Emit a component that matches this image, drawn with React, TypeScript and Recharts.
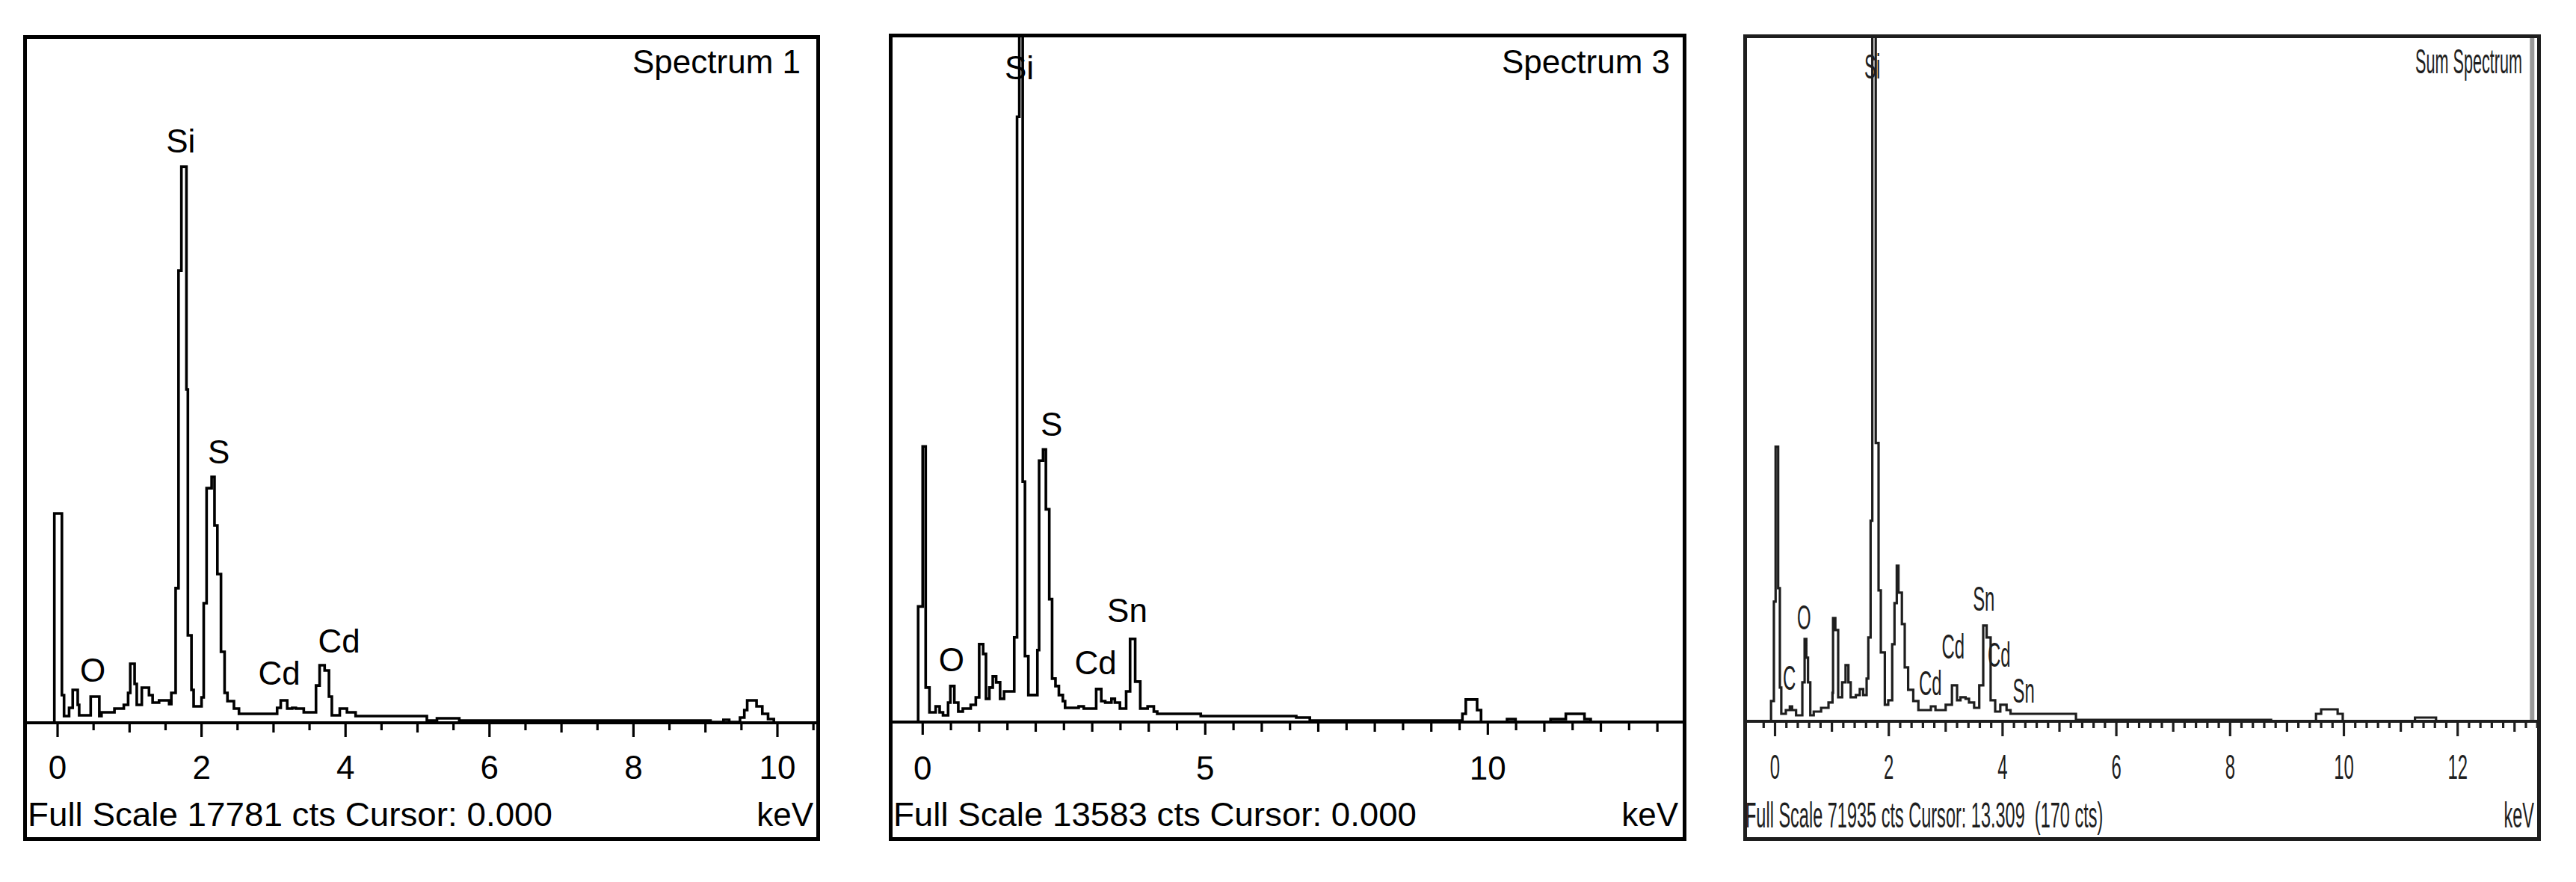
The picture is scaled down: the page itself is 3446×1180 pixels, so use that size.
import { Line, LineChart, ReferenceDot, ReferenceLine, XAxis, YAxis } from "recharts";

const FONT = '"Liberation Sans", Arial, sans-serif';

// Spectrum 1 (bin start keV, counts)
const spec1Kev = [
  -0.43, -0.045, 0.06, 0.09, 0.16, 0.21, 0.28, 0.3, 0.46, 0.58, 0.61, 0.79, 0.92, 0.98, 1.01, 1.07, 1.1, 1.17,
  1.27, 1.32, 1.41, 1.55, 1.58, 1.64, 1.68, 1.72, 1.79, 1.81, 1.86, 1.89, 2.0, 2.03, 2.07, 2.14, 2.18, 2.22,
  2.27, 2.32, 2.36, 2.45, 2.52, 3.05, 3.1, 3.19, 3.26, 3.31, 3.42, 3.59, 3.64, 3.71, 3.77, 3.81, 3.92, 4.02,
  4.14, 5.13, 5.27, 5.58, 9.07, 9.25, 9.33, 9.48, 9.54, 9.58, 9.71, 9.79, 9.87, 9.95, 10.55,
];
const spec1Cts = [
  0, 5440, 720, 175, 390, 855, 466, 195, 680, 175, 272, 370, 466, 777, 1535, 1010, 466, 913, 720, 525, 583,
  486, 777, 3500, 11755, 14455, 8666, 2273, 855, 427, 660, 3109, 6100, 6392, 5130, 3867, 1846, 777, 563, 370,
  233, 390, 583, 370, 390, 370, 272, 970, 1496, 1360, 680, 195, 370, 272, 175, 58, 117, 58, 20, 78, 20, 136,
  330, 583, 427, 233, 97, 0, 0,
];
const spec1Elements = ["Si", "S", "O", "Cd", "Cd"];
const spec1ElementKev = [1.71, 2.24, 0.49, 3.08, 3.91];
const spec1ElementCts = [15136, 7053, 1370, 1302, 2137];
const spec1TickLabels = [0, 2, 4, 6, 8, 10];

// Spectrum 3
const spec3Kev = [
  -0.53, -0.08, 0.0, 0.053, 0.12, 0.23, 0.3, 0.36, 0.45, 0.49, 0.56, 0.63, 0.71, 0.85, 0.94, 1.0, 1.07, 1.12,
  1.18, 1.24, 1.3, 1.37, 1.44, 1.62, 1.67, 1.71, 1.77, 1.81, 1.87, 2.03, 2.06, 2.13, 2.18, 2.24, 2.29, 2.35,
  2.41, 2.48, 2.52, 2.76, 2.85, 3.07, 3.16, 3.23, 3.34, 3.4, 3.49, 3.6, 3.67, 3.76, 3.85, 3.98, 4.09, 4.15,
  4.92, 6.61, 6.85, 9.55, 9.61, 9.81, 9.88, 10.34, 10.49, 11.11, 11.38, 11.71, 11.82, 13.45,
];
const spec3Cts = [
  0, 2293, 5468, 684, 193, 312, 193, 134, 386, 713, 386, 208, 267, 342, 490, 1545, 1352, 461, 684, 906, 788,
  461, 609, 1679, 12007, 15500, 4770, 1308, 535, 1427, 5186, 5409, 4220, 2437, 862, 713, 535, 416, 282, 312,
  267, 654, 416, 386, 461, 386, 267, 609, 1650, 802, 267, 312, 208, 163, 119, 89, 30, 163, 446, 238, 0, 59,
  0, 59, 163, 59, 0, 0,
];
const spec3Elements = ["Si", "S", "Sn", "Cd", "O"];
const spec3ElementKev = [1.71, 2.28, 3.62, 3.06, 0.51];
const spec3ElementCts = [12980, 5914, 2222, 1181, 1248];
const spec3TickLabels = [0, 5, 10];

// Sum Spectrum
const sumKev = [
  -0.49, -0.07, -0.02, 0.01, 0.055, 0.085, 0.11, 0.19, 0.26, 0.3, 0.37, 0.48, 0.52, 0.55, 0.58, 0.62, 0.68,
  0.81, 0.94, 1.01, 1.02, 1.06, 1.11, 1.18, 1.24, 1.29, 1.33, 1.42, 1.49, 1.55, 1.61, 1.64, 1.68, 1.71, 1.77,
  1.82, 1.86, 1.93, 1.99, 2.06, 2.1, 2.14, 2.17, 2.23, 2.28, 2.34, 2.43, 2.52, 2.74, 2.82, 3.0, 3.11, 3.2,
  3.26, 3.35, 3.41, 3.5, 3.59, 3.66, 3.72, 3.79, 3.87, 3.96, 4.07, 4.14, 5.29, 8.72, 9.51, 9.6, 9.89, 9.98,
  11.25, 11.62, 13.4,
];
const sumCts = [
  0, 2128, 12608, 28920, 14026, 3546, 788, 1182, 1576, 1182, 630, 4098, 8668, 6698, 4098, 630, 1024, 1418,
  1970, 2994, 10874, 9614, 2522, 4098, 5910, 4098, 2522, 2758, 3388, 2758, 4492, 8826, 21118, 80000, 29314,
  13790, 7250, 1734, 2206, 8116, 12450, 16390, 13554, 10244, 5674, 3310, 2128, 1182, 1576, 1182, 1734, 3782,
  2206, 2522, 2364, 1970, 1418, 3782, 10086, 8826, 2206, 1024, 1734, 1182, 788, 158, 0, 788, 1261, 788, 0,
  394, 0, 0,
];
const sumElements = ["Si", "O", "C", "Cd", "Cd", "Sn", "Cd", "Sn"];
const sumElementKev = [1.71, 0.51, 0.25, 2.73, 3.13, 3.67, 3.94, 4.37];
const sumElementCts = [68950, 10990, 4610, 4058, 7920, 12960, 7050, 3230];
const sumTickLabels = [0, 2, 4, 6, 8, 10, 12];
const sumCursorKev = 13.309;

function tickRange(start: number, stop: number, step: number) {
  const out: number[] = [];
  for (let i = 0; start + i * step <= stop + 1e-9; i++) {
    out.push(Math.round((start + i * step) * 100) / 100);
  }
  return out;
}

type PanelProps = {
  left: number;
  top: number;
  width: number;
  height: number;
  axisHeight: number;
  xDomain: [number, number];
  fullScale: number;
  kev: number[];
  cts: number[];
  ticks: number[];
  tickLabels: number[];
  tickLen: [number, number, number];
  tickDy: number;
  fontSize: number;
  squeeze: number;
  elements: string[];
  elementKev: number[];
  elementCts: number[];
  color: string;
  strokeWidth: number;
  cursor?: number;
};

function Panel(p: PanelProps) {
  const data = p.kev.map((k, i) => ({ kev: k, cts: p.cts[i] }));

  const renderTick = (props: any) => {
    const { x, y, payload } = props;
    const v = payload.value as number;
    const labelled = p.tickLabels.includes(v);
    const isInt = Math.abs(v - Math.round(v)) < 1e-6;
    const len = labelled ? p.tickLen[0] : isInt ? p.tickLen[1] : p.tickLen[2];
    return (
      <g>
        <line stroke={p.color} strokeWidth={3.2} x1={x} x2={x} y1={y} y2={y + len} />
        {labelled && (
          <text
            fill={p.color}
            fontFamily={FONT}
            fontSize={p.fontSize}
            textAnchor="middle"
            transform={`translate(${x},${y + p.tickDy}) scale(${p.squeeze},1)`}
          >
            {String(v)}
          </text>
        )}
      </g>
    );
  };

  return (
    <div
      style={{
        position: "absolute",
        left: p.left,
        top: p.top,
        width: p.width,
        height: p.height,
        border: `5px solid ${p.color}`,
        boxSizing: "border-box",
        background: "#fff",
      }}
    >
      <LineChart
        data={data}
        height={p.height - 10}
        margin={{ top: 0, right: 0, bottom: 0, left: 0 }}
        width={p.width - 10}
      >
        <XAxis
          allowDataOverflow
          axisLine={{ stroke: p.color, strokeWidth: 4 }}
          dataKey="kev"
          domain={p.xDomain}
          height={p.axisHeight}
          interval={0}
          tick={renderTick}
          tickLine={false}
          tickMargin={0}
          tickSize={0}
          ticks={p.ticks}
          type="number"
        />
        <YAxis allowDataOverflow domain={[0, p.fullScale]} hide type="number" />
        {p.cursor !== undefined && (
          <ReferenceLine stroke="#9a9a9a" strokeWidth={6} x={p.cursor} />
        )}
        <Line
          dataKey="cts"
          dot={false}
          isAnimationActive={false}
          stroke={p.color}
          strokeWidth={p.strokeWidth}
          type="stepAfter"
        />
        {p.elements.map((el, i) => (
          <ReferenceDot
            fill="none"
            ifOverflow="visible"
            key={`el-${i}`}
            label={{
              content: (lp: any) => {
                const vb = lp.viewBox ?? {};
                const cx = (vb.x ?? 0) + (vb.width ?? 0) / 2;
                const cy = (vb.y ?? 0) + (vb.height ?? 0) / 2;
                return (
                  <text
                    fill={p.color}
                    fontFamily={FONT}
                    fontSize={p.fontSize}
                    textAnchor="middle"
                    transform={`translate(${cx},${cy + p.fontSize * 0.358}) scale(${p.squeeze},1)`}
                  >
                    {el}
                  </text>
                );
              },
            }}
            r={0}
            stroke="none"
            x={p.elementKev[i]}
            y={p.elementCts[i]}
          />
        ))}
      </LineChart>
    </div>
  );
}

export default function App() {
  const txt = { fontFamily: FONT, fill: "#000" };
  return (
    <div
      style={{
        position: "absolute",
        left: 0,
        top: 0,
        width: 3446,
        height: 1180,
        background: "#fff",
        overflow: "hidden",
      }}
    >
      <Panel
        axisHeight={153}
        color="#000"
        cts={spec1Cts}
        elementCts={spec1ElementCts}
        elementKev={spec1ElementKev}
        elements={spec1Elements}
        fontSize={44}
        fullScale={17781}
        height={1078}
        kev={spec1Kev}
        left={31}
        squeeze={1}
        strokeWidth={3.6}
        tickDy={75}
        tickLabels={spec1TickLabels}
        tickLen={[19, 13, 10]}
        ticks={tickRange(0, 10.5, 0.5)}
        top={47}
        width={1066}
        xDomain={[-0.426, 10.54]}
      />
      <Panel
        axisHeight={154}
        color="#000"
        cts={spec3Cts}
        elementCts={spec3ElementCts}
        elementKev={spec3ElementKev}
        elements={spec3Elements}
        fontSize={44}
        fullScale={13583}
        height={1080}
        kev={spec3Kev}
        left={1189}
        squeeze={1}
        strokeWidth={3.6}
        tickDy={77}
        tickLabels={spec3TickLabels}
        tickLen={[17, 13, 11]}
        ticks={tickRange(0, 13, 0.5)}
        top={45}
        width={1067}
        xDomain={[-0.533, 13.448]}
      />
      <Panel
        axisHeight={155}
        color="#1e1e1e"
        cts={sumCts}
        cursor={sumCursorKev}
        elementCts={sumElementCts}
        elementKev={sumElementKev}
        elements={sumElements}
        fontSize={46}
        fullScale={71935}
        height={1079}
        kev={sumKev}
        left={2332}
        squeeze={0.52}
        strokeWidth={3.2}
        tickDy={77}
        tickLabels={sumTickLabels}
        tickLen={[20, 14, 9]}
        ticks={tickRange(-0.2, 13.4, 0.2)}
        top={46}
        width={1067}
        xDomain={[-0.493, 13.397]}
      />
      <svg
        height={1180}
        style={{ position: "absolute", left: 0, top: 0, pointerEvents: "none" }}
        width={3446}
      >
        <text {...txt} fontSize={44} textAnchor="end" x={1071} y={98}>
          Spectrum 1
        </text>
        <text {...txt} fontSize={44} lengthAdjust="spacingAndGlyphs" textLength={702} x={37} y={1105}>
          Full Scale 17781 cts Cursor: 0.000
        </text>
        <text {...txt} fontSize={44} textAnchor="end" x={1088} y={1105}>
          keV
        </text>

        <text {...txt} fontSize={44} textAnchor="end" x={2234} y={98}>
          Spectrum 3
        </text>
        <text {...txt} fontSize={44} lengthAdjust="spacingAndGlyphs" textLength={700} x={1195} y={1105}>
          Full Scale 13583 cts Cursor: 0.000
        </text>
        <text {...txt} fontSize={44} textAnchor="end" x={2245} y={1105}>
          keV
        </text>

        <text
          {...txt}
          fill="#1e1e1e"
          fontSize={46}
          textAnchor="end"
          transform="translate(3374,98) scale(0.47,1)"
        >
          Sum Spectrum
        </text>
        <text
          {...txt}
          fill="#1e1e1e"
          fontSize={48}
          style={{ whiteSpace: "pre" }}
          transform="translate(2335,1107) scale(0.49,1)"
        >
          {"Full Scale 71935 cts Cursor: 13.309  (170 cts)"}
        </text>
        <text
          {...txt}
          fill="#1e1e1e"
          fontSize={48}
          textAnchor="end"
          transform="translate(3390,1107) scale(0.49,1)"
        >
          keV
        </text>
      </svg>
    </div>
  );
}
